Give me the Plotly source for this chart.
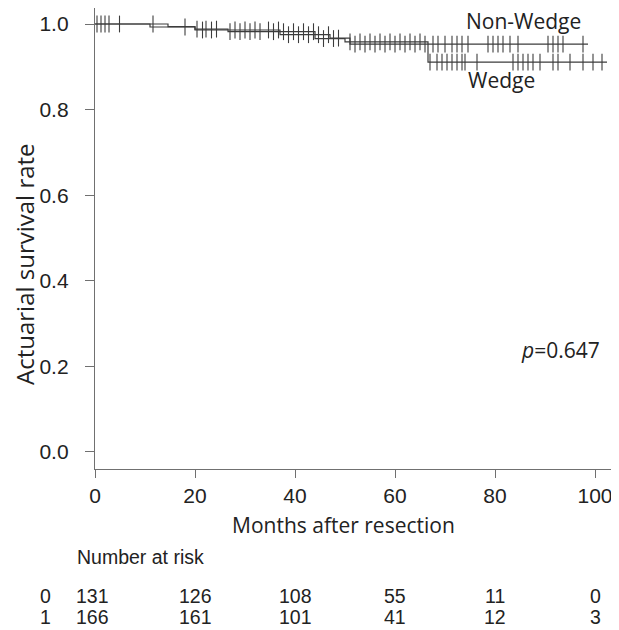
import numpy as np
import plotly.graph_objects as go

# Kaplan-Meier step data (months, survival)
nw_times = [0, 11, 20, 37, 47, 51, 98.6]
nw_surv = [1.0, 0.993, 0.986, 0.975, 0.967, 0.953, 0.953]
w_times = [0, 14.6, 20, 26.6, 44, 50, 66.6, 102.4]
w_surv = [1.0, 0.994, 0.988, 0.982, 0.966, 0.958, 0.911, 0.911]

# censoring times
nw_censor = [0.4, 1.2, 2.0, 2.8, 4.9, 18, 21.5, 23.3, 28, 30, 32, 34.7, 36.7, 38.7,
             40.7, 42.7, 44.7, 46.7, 48.7, 52, 54, 56, 58, 60, 62, 64, 66, 67.6, 68.6,
             70, 71.4, 72.4, 73.4, 74.6, 78.6, 79.6, 80.6, 81.6, 83, 84.6, 90.6, 91.6,
             92.6, 93.6, 97.6]
w_censor = [11.6, 20.4, 22.2, 24.3, 27, 29, 31, 33, 35.7, 37.7, 39.7, 41.7, 43.7, 45.7,
            47.7, 51, 53, 55, 57, 59, 61, 63, 65, 67, 68.4, 69.4, 70.4, 71.4, 72.4, 73.4,
            74, 76.4, 83.6, 84.6, 85.6, 86.6, 87.6, 89, 91.6, 92.6, 95, 97.6, 99.6, 101.4]

# number at risk
risk_times = [0, 20, 40, 60, 80, 100]
risk_groups = ["0", "1"]
risk_0 = [131, 126, 108, 55, 11, 0]
risk_1 = [166, 161, 101, 41, 12, 3]

x_ticks = [0, 20, 40, 60, 80, 100]
y_ticks = [0.0, 0.2, 0.4, 0.6, 0.8, 1.0]
y_ticktext = ["0.0", "0.2", "0.4", "0.6", "0.8", "1.0"]


def surv_at(times, surv, t):
    idx = np.searchsorted(np.array(times), np.array(t), side="right") - 1
    return np.array(surv)[idx]


# page has an 8px body margin: the figure is drawn 8px right/down of the window origin
W, H = 611, 622
ML, MT, MB = 87, 0, 161
PH = H - MT - MB  # plot height (461)
PW = W - ML       # plot width (524)


def px_x(px):  # reference-window px -> paper x
    return (px - 8 - ML) / PW


def px_y(py):  # reference-window px -> paper y
    return (MT + PH - (py - 8)) / PH


LINE = "#3c3c3c"
fig = go.Figure()
for times, surv, cens in [(nw_times, nw_surv, nw_censor), (w_times, w_surv, w_censor)]:
    fig.add_trace(go.Scatter(x=times, y=surv, mode="lines", line=dict(shape="hv", color=LINE, width=1.2),
                             showlegend=False, hoverinfo="skip"))
    fig.add_trace(go.Scatter(x=cens, y=surv_at(times, surv, cens), mode="markers",
                             marker=dict(symbol="line-ns", size=12, line=dict(color=LINE, width=1.1)),
                             showlegend=False, hoverinfo="skip"))

TICKFONT = dict(family="Liberation Sans, Arial, sans-serif", size=21, color="#222")
LABFONT = dict(family="Open Sans, sans-serif", size=21, color="#222")
AXC = "#707070"

fig.update_layout(
    width=W, height=H,
    margin=dict(l=ML, r=0, t=MT, b=MB, pad=0),
    paper_bgcolor="white", plot_bgcolor="white",
    xaxis=dict(range=[0, 104.8], tickvals=x_ticks, ticktext=[str(v) for v in x_ticks],
               showgrid=False, zeroline=False, showline=True, linecolor=AXC, linewidth=1.3,
               ticks="outside", ticklen=8, tickcolor=AXC, tickwidth=1.3,
               tickfont=TICKFONT, ticklabelstandoff=0, fixedrange=True),
    yaxis=dict(range=[-0.04, 1.0374], tickvals=y_ticks, ticktext=y_ticktext,
               showgrid=False, zeroline=False, showline=True, linecolor=AXC, linewidth=1.3,
               ticks="outside", ticklen=9, tickcolor=AXC, tickwidth=1.3,
               tickfont=TICKFONT, ticklabelstandoff=12, fixedrange=True),
)

ann = []
ann.append(dict(text="Actuarial survival rate", xref="paper", yref="paper", x=px_x(24), y=px_y(264),
                textangle=-90, showarrow=False,
                font=dict(family="Open Sans, sans-serif", size=24, color="#222"),
                xanchor="center", yanchor="middle"))
ann.append(dict(text="Months after resection", xref="paper", yref="paper", x=px_x(343), y=px_y(525),
                showarrow=False, font=LABFONT, xanchor="center", yanchor="middle"))
ann.append(dict(text="Non-Wedge", xref="x", yref="y", x=85.7, y=1.006, showarrow=False,
                font=LABFONT, xanchor="center", yanchor="middle"))
ann.append(dict(text="Wedge", xref="x", yref="y", x=81.2, y=0.87, showarrow=False,
                font=LABFONT, yanchor="middle", xanchor="center"))
ann.append(dict(text="<i>p</i>=0.647", xref="x", yref="y", x=93.0, y=0.238, showarrow=False,
                font=dict(family="Open Sans, sans-serif", size=21, color="#222"),
                xanchor="center", yanchor="middle"))

RISKFONT = dict(family="Liberation Sans, Arial, sans-serif", size=19.5, color="#222")
ann.append(dict(text="Number at risk", xref="paper", yref="paper", x=px_x(75),
                y=px_y(557), showarrow=False, font=RISKFONT, xanchor="left", yanchor="middle"))
for row, (g, vals) in enumerate(zip(risk_groups, [risk_0, risk_1])):
    ypos = px_y(596 + 21 * row)
    ann.append(dict(text=g, xref="paper", yref="paper", x=px_x(45), y=ypos, showarrow=False,
                    font=RISKFONT, xanchor="center", yanchor="middle"))
    for t, v in zip(risk_times, vals):
        ann.append(dict(text=str(v), xref="x", yref="paper", x=t, y=ypos, showarrow=False,
                        font=RISKFONT, xanchor="center", yanchor="middle",
                        xshift=-3 if t == 0 else 0))

fig.update_layout(annotations=ann)
fig.write_html("out.html")
